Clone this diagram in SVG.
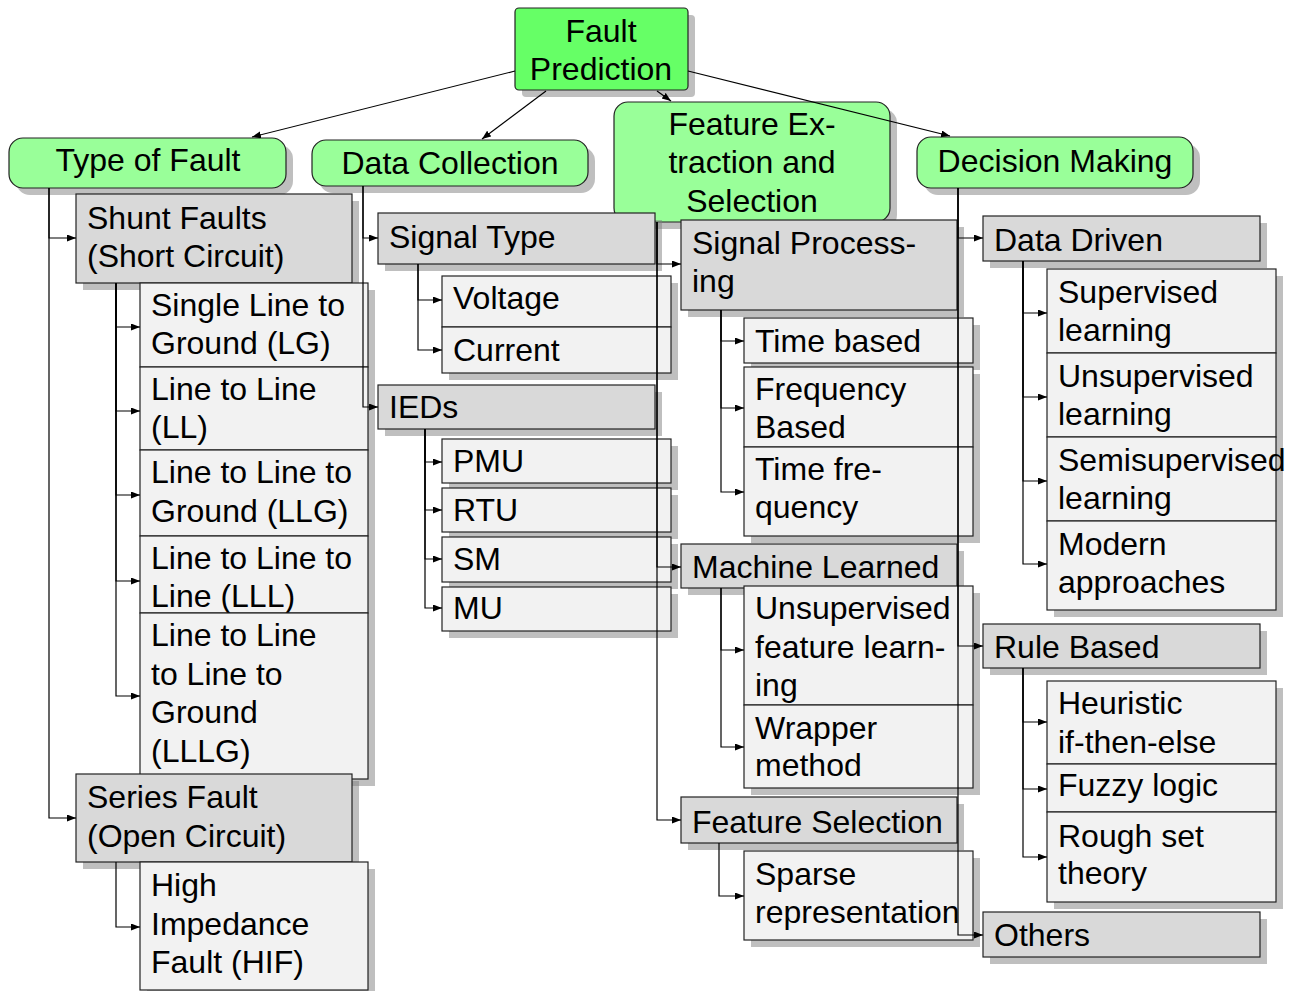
<svg xmlns="http://www.w3.org/2000/svg" width="1300" height="991" viewBox="0 0 1300 991">
<style>
text{font-family:"Liberation Sans",Arial,sans-serif;font-size:32px;fill:#000}
.c{text-anchor:middle}
.sh{fill:#808080;opacity:.5}
.root{fill:#66ff66;stroke:#222;stroke-width:1.2}
.l1{fill:#99ff99;stroke:#222;stroke-width:1.2}
.l2{fill:#d9d9d9;stroke:#222;stroke-width:1.2}
.l3{fill:#f2f2f2;stroke:#222;stroke-width:1.2}
.e{fill:none;stroke:#000;stroke-width:1.2;marker-end:url(#ah)}
</style>
<defs>
<marker id="ah" markerUnits="userSpaceOnUse" markerWidth="10" markerHeight="8" refX="9" refY="3.5" orient="auto">
<path d="M0,0 L9,3.5 L0,7 z" fill="#000"/>
</marker>
</defs>
<rect width="1300" height="991" fill="#fff"/>
<g id="root">
<rect class="sh" x="522" y="15" width="173" height="82" rx="4"/>
<rect class="root" x="515" y="8" width="173" height="82" rx="4"/>
<text class="c" x="601" y="42">Fault</text>
<text class="c" x="601" y="80">Prediction</text>
</g>
<g id="type-of-fault">
<rect class="sh" x="16" y="145" width="277" height="50" rx="14"/>
<rect class="l1" x="9" y="138" width="277" height="50" rx="14"/>
<text class="c" x="148" y="171">Type of Fault</text>
</g>
<g id="data-collection">
<rect class="sh" x="319" y="147" width="276" height="46" rx="14"/>
<rect class="l1" x="312" y="140" width="276" height="46" rx="14"/>
<text class="c" x="450" y="174">Data Collection</text>
</g>
<g id="feature-extraction">
<rect class="sh" x="621" y="109" width="276" height="120" rx="14"/>
<rect class="l1" x="614" y="102" width="276" height="120" rx="14"/>
<text class="c" x="752" y="135">Feature Ex-</text>
<text class="c" x="752" y="173">traction and</text>
<text class="c" x="752" y="212">Selection</text>
</g>
<g id="decision-making">
<rect class="sh" x="924" y="144" width="276" height="51" rx="14"/>
<rect class="l1" x="917" y="137" width="276" height="51" rx="14"/>
<text class="c" x="1055" y="172">Decision Making</text>
</g>
<g id="shunt">
<rect class="sh" x="83" y="201" width="276" height="89"/>
<rect class="l2" x="76" y="194" width="276" height="89"/>
<text x="87" y="229">Shunt Faults</text>
<text x="87" y="267">(Short Circuit)</text>
</g>
<g id="lg">
<rect class="sh" x="147" y="290" width="228" height="84"/>
<rect class="l3" x="140" y="283" width="228" height="84"/>
<text x="151" y="316">Single Line to</text>
<text x="151" y="354">Ground (LG)</text>
</g>
<g id="ll">
<rect class="sh" x="147" y="374" width="228" height="83"/>
<rect class="l3" x="140" y="367" width="228" height="83"/>
<text x="151" y="400">Line to Line</text>
<text x="151" y="438">(LL)</text>
</g>
<g id="llg">
<rect class="sh" x="147" y="457" width="228" height="86"/>
<rect class="l3" x="140" y="450" width="228" height="86"/>
<text x="151" y="483">Line to Line to</text>
<text x="151" y="522">Ground (LLG)</text>
</g>
<g id="lll">
<rect class="sh" x="147" y="543" width="228" height="77"/>
<rect class="l3" x="140" y="536" width="228" height="77"/>
<text x="151" y="569">Line to Line to</text>
<text x="151" y="607">Line (LLL)</text>
</g>
<g id="lllg">
<rect class="sh" x="147" y="620" width="228" height="166"/>
<rect class="l3" x="140" y="613" width="228" height="166"/>
<text x="151" y="646">Line to Line</text>
<text x="151" y="685">to Line to</text>
<text x="151" y="723">Ground</text>
<text x="151" y="762">(LLLG)</text>
</g>
<g id="series">
<rect class="sh" x="83" y="781" width="276" height="88"/>
<rect class="l2" x="76" y="774" width="276" height="88"/>
<text x="87" y="808">Series Fault</text>
<text x="87" y="847">(Open Circuit)</text>
</g>
<g id="hif">
<rect class="sh" x="147" y="869" width="228" height="128"/>
<rect class="l3" x="140" y="862" width="228" height="128"/>
<text x="151" y="896">High</text>
<text x="151" y="935">Impedance</text>
<text x="151" y="973">Fault (HIF)</text>
</g>
<g id="signal-type">
<rect class="sh" x="385" y="220" width="277" height="51"/>
<rect class="l2" x="378" y="213" width="277" height="51"/>
<text x="389" y="248">Signal Type</text>
</g>
<g id="voltage">
<rect class="sh" x="449" y="283" width="229" height="51"/>
<rect class="l3" x="442" y="276" width="229" height="51"/>
<text x="453" y="309">Voltage</text>
</g>
<g id="current">
<rect class="sh" x="449" y="334" width="229" height="46"/>
<rect class="l3" x="442" y="327" width="229" height="46"/>
<text x="453" y="361">Current</text>
</g>
<g id="ieds">
<rect class="sh" x="385" y="392" width="277" height="44"/>
<rect class="l2" x="378" y="385" width="277" height="44"/>
<text x="389" y="418">IEDs</text>
</g>
<g id="pmu">
<rect class="sh" x="449" y="446" width="229" height="44"/>
<rect class="l3" x="442" y="439" width="229" height="44"/>
<text x="453" y="472">PMU</text>
</g>
<g id="rtu">
<rect class="sh" x="449" y="495" width="229" height="44"/>
<rect class="l3" x="442" y="488" width="229" height="44"/>
<text x="453" y="521">RTU</text>
</g>
<g id="sm">
<rect class="sh" x="449" y="544" width="229" height="45"/>
<rect class="l3" x="442" y="537" width="229" height="45"/>
<text x="453" y="570">SM</text>
</g>
<g id="mu">
<rect class="sh" x="449" y="594" width="229" height="44"/>
<rect class="l3" x="442" y="587" width="229" height="44"/>
<text x="453" y="619">MU</text>
</g>
<g id="signal-processing">
<rect class="sh" x="688" y="227" width="276" height="90"/>
<rect class="l2" x="681" y="220" width="276" height="90"/>
<text x="692" y="254">Signal Process-</text>
<text x="692" y="292">ing</text>
</g>
<g id="time-based">
<rect class="sh" x="751" y="325" width="229" height="45"/>
<rect class="l3" x="744" y="318" width="229" height="45"/>
<text x="755" y="352">Time based</text>
</g>
<g id="frequency-based">
<rect class="sh" x="751" y="374" width="229" height="80"/>
<rect class="l3" x="744" y="367" width="229" height="80"/>
<text x="755" y="400">Frequency</text>
<text x="755" y="438">Based</text>
</g>
<g id="time-frequency">
<rect class="sh" x="751" y="454" width="229" height="89"/>
<rect class="l3" x="744" y="447" width="229" height="89"/>
<text x="755" y="480">Time fre-</text>
<text x="755" y="518">quency</text>
</g>
<g id="machine-learned">
<rect class="sh" x="688" y="551" width="276" height="44"/>
<rect class="l2" x="681" y="544" width="276" height="44"/>
<text x="692" y="578">Machine Learned</text>
</g>
<g id="unsupervised-feature-learning">
<rect class="sh" x="751" y="593" width="229" height="119"/>
<rect class="l3" x="744" y="586" width="229" height="119"/>
<text x="755" y="619">Unsupervised</text>
<text x="755" y="658">feature learn-</text>
<text x="755" y="696">ing</text>
</g>
<g id="wrapper-method">
<rect class="sh" x="751" y="712" width="229" height="83"/>
<rect class="l3" x="744" y="705" width="229" height="83"/>
<text x="755" y="739">Wrapper</text>
<text x="755" y="776">method</text>
</g>
<g id="feature-selection">
<rect class="sh" x="688" y="804" width="276" height="46"/>
<rect class="l2" x="681" y="797" width="276" height="46"/>
<text x="692" y="833">Feature Selection</text>
</g>
<g id="sparse-representation">
<rect class="sh" x="751" y="858" width="229" height="89"/>
<rect class="l3" x="744" y="851" width="229" height="89"/>
<text x="755" y="885">Sparse</text>
<text x="755" y="923">representation</text>
</g>
<g id="data-driven">
<rect class="sh" x="990" y="223" width="277" height="45"/>
<rect class="l2" x="983" y="216" width="277" height="45"/>
<text x="994" y="251">Data Driven</text>
</g>
<g id="supervised">
<rect class="sh" x="1054" y="276" width="229" height="84"/>
<rect class="l3" x="1047" y="269" width="229" height="84"/>
<text x="1058" y="303">Supervised</text>
<text x="1058" y="341">learning</text>
</g>
<g id="unsupervised">
<rect class="sh" x="1054" y="360" width="229" height="84"/>
<rect class="l3" x="1047" y="353" width="229" height="84"/>
<text x="1058" y="387">Unsupervised</text>
<text x="1058" y="425">learning</text>
</g>
<g id="semisupervised">
<rect class="sh" x="1054" y="444" width="229" height="84"/>
<rect class="l3" x="1047" y="437" width="229" height="84"/>
<text x="1058" y="471">Semisupervised</text>
<text x="1058" y="509">learning</text>
</g>
<g id="modern">
<rect class="sh" x="1054" y="528" width="229" height="89"/>
<rect class="l3" x="1047" y="521" width="229" height="89"/>
<text x="1058" y="555">Modern</text>
<text x="1058" y="593">approaches</text>
</g>
<g id="rule-based">
<rect class="sh" x="990" y="631" width="277" height="44"/>
<rect class="l2" x="983" y="624" width="277" height="44"/>
<text x="994" y="658">Rule Based</text>
</g>
<g id="heuristic">
<rect class="sh" x="1054" y="688" width="229" height="83"/>
<rect class="l3" x="1047" y="681" width="229" height="83"/>
<text x="1058" y="714">Heuristic</text>
<text x="1058" y="753">if-then-else</text>
</g>
<g id="fuzzy">
<rect class="sh" x="1054" y="771" width="229" height="48"/>
<rect class="l3" x="1047" y="764" width="229" height="48"/>
<text x="1058" y="796">Fuzzy logic</text>
</g>
<g id="rough-set">
<rect class="sh" x="1054" y="819" width="229" height="90"/>
<rect class="l3" x="1047" y="812" width="229" height="90"/>
<text x="1058" y="847">Rough set</text>
<text x="1058" y="884">theory</text>
</g>
<g id="others">
<rect class="sh" x="990" y="919" width="277" height="45"/>
<rect class="l2" x="983" y="912" width="277" height="45"/>
<text x="994" y="946">Others</text>
</g>
<g id="connectors">
<path class="e" d="M515,71 L252,137"/>
<path class="e" d="M546,91 L482,139"/>
<path class="e" d="M657,91 L671,101"/>
<path class="e" d="M688,71 L950,136"/>
<path class="e" d="M49,188 V238 H76"/>
<path class="e" d="M49,188 V818 H76"/>
<path class="e" d="M116,283 V327 H140"/>
<path class="e" d="M116,283 V411 H140"/>
<path class="e" d="M116,283 V495 H140"/>
<path class="e" d="M116,283 V581 H140"/>
<path class="e" d="M116,283 V696 H140"/>
<path class="e" d="M116,862 V927 H140"/>
<path class="e" d="M363,186 V238 H378"/>
<path class="e" d="M363,186 V407 H378"/>
<path class="e" d="M418,264 V300 H442"/>
<path class="e" d="M418,264 V350 H442"/>
<path class="e" d="M425,429 V462 H442"/>
<path class="e" d="M425,429 V510 H442"/>
<path class="e" d="M425,429 V559 H442"/>
<path class="e" d="M425,429 V608 H442"/>
<path class="e" d="M657,222 V264 H681"/>
<path class="e" d="M657,222 V567 H681"/>
<path class="e" d="M657,222 V820 H681"/>
<path class="e" d="M721,310 V341 H744"/>
<path class="e" d="M721,310 V408 H744"/>
<path class="e" d="M721,310 V492 H744"/>
<path class="e" d="M721,588 V650 H744"/>
<path class="e" d="M721,588 V747 H744"/>
<path class="e" d="M719,843 V896 H744"/>
<path class="e" d="M958,188 V238 H983"/>
<path class="e" d="M958,188 V646 H983"/>
<path class="e" d="M958,188 V935 H983"/>
<path class="e" d="M1023,261 V313 H1047"/>
<path class="e" d="M1023,261 V397 H1047"/>
<path class="e" d="M1023,261 V481 H1047"/>
<path class="e" d="M1023,261 V564 H1047"/>
<path class="e" d="M1023,668 V722 H1047"/>
<path class="e" d="M1023,668 V789 H1047"/>
<path class="e" d="M1023,668 V857 H1047"/>
</g>
</svg>
